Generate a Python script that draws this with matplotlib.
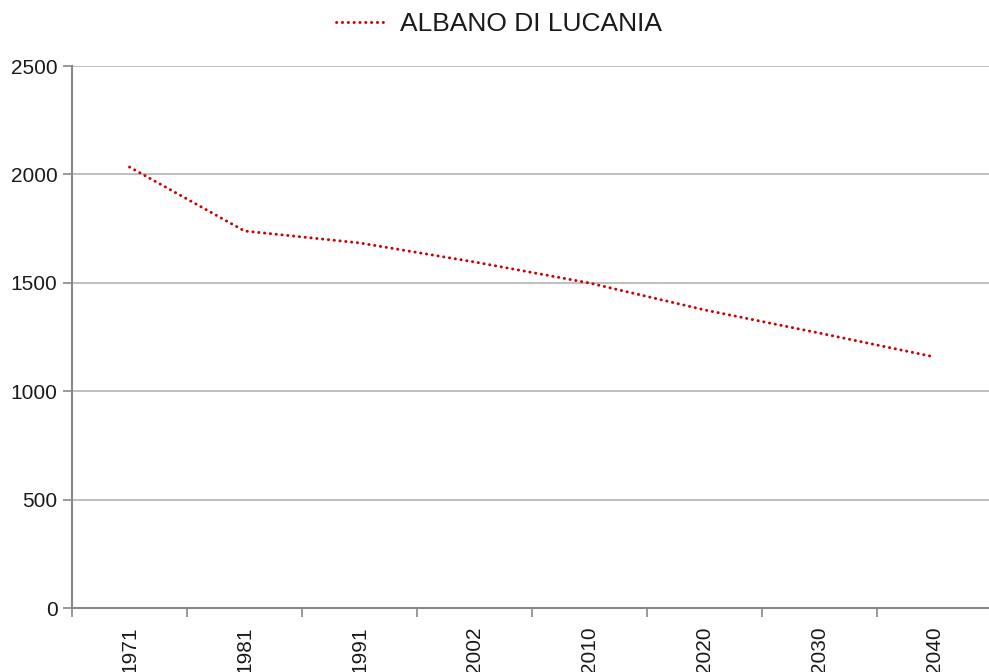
import matplotlib
matplotlib.use('Agg')
import matplotlib.pyplot as plt

# Data
years = ['1971', '1981', '1991', '2002', '2010', '2020', '2030', '2040']
population = [2034, 1739, 1684, 1596, 1499, 1375, 1268, 1158]
y_ticks = [0, 500, 1000, 1500, 2000, 2500]

plt.rcParams['font.family'] = ['Liberation Sans', 'DejaVu Sans']

fig = plt.figure(figsize=(9.89, 6.72), dpi=100)
W, H = 989, 672
ax = fig.add_axes([72 / W, (H - 608) / H, 920 / W, 542 / H])

x = range(len(years))
line, = ax.plot(x, population, color='#cc0000', linewidth=2.1,
                linestyle=(0, (0.1, 1.9)), dash_capstyle='round',
                label='ALBANO DI LUCANIA')

ax.set_xlim(-0.5, len(years) - 0.5)
ax.set_ylim(0, 2500)
ax.set_yticks(y_ticks)
ax.set_xticks(x)
ax.set_xticklabels(years, rotation=90, va='top', ha='center')
ax.set_xticks([i - 0.5 for i in range(len(years) + 1)], minor=True)

ax.grid(axis='y', color='#b3b3b3', linewidth=1.2)
ax.set_axisbelow(True)

for side in ['top', 'right']:
    ax.spines[side].set_visible(False)
for side in ['left', 'bottom']:
    ax.spines[side].set_color('#888888')
    ax.spines[side].set_linewidth(1.5)

ax.tick_params(axis='y', length=6.5, width=1.2, color='#888888', labelsize=15,
               pad=4, labelcolor='#1a1a1a')
ax.tick_params(axis='x', which='major', length=0, labelsize=15, pad=13,
               labelcolor='#1a1a1a')
ax.tick_params(axis='x', which='minor', length=6.5, width=1.2, color='#888888')

fig.legend(handles=[line], loc='center', bbox_to_anchor=(499 / W, 1 - 24 / H),
           frameon=False, fontsize=19, handlelength=1.8, handletextpad=0.6,
           labelcolor='#1a1a1a')

fig.savefig('out.png', dpi=100)
